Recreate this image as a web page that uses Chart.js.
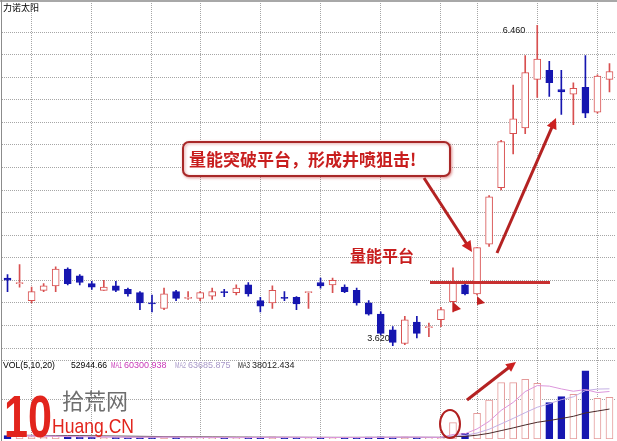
<!DOCTYPE html>
<html>
<head>
<meta charset="utf-8">
<script src="https://cdn.jsdelivr.net/npm/chart.js@4.4.0/dist/chart.umd.min.js"></script>
<style>
  body { margin: 0; background: #fff; }
  #wrap { position: relative; width: 617px; height: 441px; overflow: hidden; background: #fff; }
  #price { position: absolute; left: 0; top: 0; }
  #vol { position: absolute; left: 0; top: 358px; }
  #edgeTop { position: absolute; left: 0; top: 0; width: 617px; height: 2px; background: #a8a8a8; }
  #edgeLeft { position: absolute; left: 1px; top: 0; width: 1px; height: 441px; background: #8c8c8c; }
</style>
</head>
<body>
<div id="wrap">
  <canvas id="price" width="617" height="360"></canvas>
  <canvas id="vol" width="617" height="83"></canvas>
  <div id="edgeTop"></div>
  <div id="edgeLeft"></div>
</div>
<script>
// trading days shown in the window
const days = [1,2,3,4,5,6,7,8,9,10,11,12,13,14,15,16,17,18,19,20,21,22,23,24,25,
  26,27,28,29,30,31,32,33,34,35,36,37,38,39,40,41,42,43,44,45,46,47,48,49,50,51];

// daily prices
const openP  = [4.22,4.17,4.02,4.11,4.15,4.30,4.24,4.17,4.11,4.15,4.12,4.09,4.00,3.95,4.10,4.04,4.04,4.06,4.10,4.09,
  4.16,4.02,4.00,4.05,4.05,4.09,4.18,4.16,4.14,4.11,4.00,3.90,3.76,3.64,3.83,3.78,3.85,4.01,4.16,4.08,
  4.52,5.02,5.50,5.55,5.98,6.06,5.89,5.85,5.91,5.69,5.98];
const closeP = [4.20,4.18,4.10,4.15,4.30,4.17,4.18,4.14,4.14,4.11,4.08,4.00,3.99,4.08,4.04,4.045,4.09,4.10,4.09,4.13,
  4.08,3.97,4.11,4.04,3.99,4.095,4.15,4.20,4.10,4.00,3.90,3.73,3.65,3.85,3.73,3.79,3.94,4.19,4.08,4.49,
  4.94,5.43,5.63,6.04,6.16,5.95,5.87,5.90,5.68,6.01,6.05];
const highP  = [4.25,4.34,4.14,4.17,4.32,4.31,4.25,4.19,4.20,4.19,4.13,4.10,4.07,4.13,4.11,4.10,4.10,4.13,4.12,4.16,
  4.18,4.05,4.15,4.10,4.055,4.095,4.22,4.22,4.16,4.13,4.02,3.92,3.79,3.88,3.88,3.82,3.96,4.31,4.17,4.49,
  4.95,5.44,5.93,6.19,6.46,6.14,6.06,5.95,6.19,6.02,6.12];
const lowP   = [4.10,4.14,4.00,4.10,4.10,4.16,4.16,4.12,4.11,4.10,4.06,3.94,3.92,3.94,4.02,4.03,4.02,4.03,4.055,4.07,
  4.06,3.92,3.95,4.02,3.94,3.95,4.13,4.09,4.09,3.98,3.89,3.715,3.62,3.63,3.69,3.70,3.79,3.92,4.07,4.07,
  4.50,5.00,5.32,5.50,5.82,5.83,5.67,5.58,5.64,5.68,5.87];

// volume and its moving averages MA1(5) MA2(10) MA3(20)
const volume = [4200,3800,3000,2200,3500,3000,2500,2000,1800,2200,1900,2600,2400,2800,2000,1600,1700,1900,1500,1800,
  2300,2500,2700,1700,2000,1900,2100,1800,1600,2200,2400,2900,2300,2600,1900,1500,2000,20700,7200,32600,
  49500,71500,71500,75800,70700,46100,53700,56800,86400,51700,52944.66];
const ma1 = [4300,4200,3900,3500,3340,3100,2840,2640,2560,2300,2080,2100,2180,2380,2340,2280,2100,2000,1740,1700,
  1840,2000,2160,2200,2240,2160,2080,1900,1880,1920,2020,2180,2280,2480,2420,2240,2060,5740,6660,12800,
  22400,36300,46460,60180,67800,67120,63560,60620,62740,58940,60300.938];
const ma2 = [4500,4400,4200,4000,3800,3500,3300,3100,2950,2820,2590,2470,2410,2470,2320,2180,2100,2090,2060,2020,
  2060,2050,2080,1970,1970,2000,2040,2030,2040,2080,2090,2130,2090,2180,2170,2130,2120,4010,4570,7610,
  12320,19180,26100,33420,40300,44760,49930,53540,61460,63370,63685.875];
const ma3 = [4800,4700,4600,4500,4400,4300,4150,4000,3850,3700,3550,3400,3250,3100,2950,2800,2700,2600,2500,2420,
  2325,2260,2245,2220,2145,2090,2070,2060,2050,2050,2075,2090,2085,2075,2070,2065,2080,3020,3305,4845,
  7205,10655,14095,17800,21235,23445,26025,28775,33015,35490,38012.434];

// axis ticks (grid lines)
const priceTicks = [3.6,3.8,4.0,4.2,4.4,4.6,4.8,5.0,5.2,5.4,5.6,5.8,6.0,6.2,6.4];
const volTicks = [50000, 100000];
const dateGridDays = [2,7,12,16,21,26,31,36,39,44,49]; // day indexes with a vertical grid line

const priceMin = 3.5114, priceMax = 6.657;
const volMax = 102800;

const upColor = '#d85050';
const downColor = '#1616b0';
const gridColor = '#a6a6a6';

const isUp = openP.map((o, i) => closeP[i] >= o);

function drawArrow(ctx, x1, y1, x2, y2, head) {
  const a = Math.atan2(y2 - y1, x2 - x1);
  ctx.beginPath();
  ctx.moveTo(x1, y1);
  ctx.lineTo(x2 - head * 0.7 * Math.cos(a), y2 - head * 0.7 * Math.sin(a));
  ctx.stroke();
  ctx.beginPath();
  ctx.moveTo(x2, y2);
  ctx.lineTo(x2 - head * Math.cos(a - 0.45), y2 - head * Math.sin(a - 0.45));
  ctx.lineTo(x2 - head * Math.cos(a + 0.45), y2 - head * Math.sin(a + 0.45));
  ctx.closePath();
  ctx.fill();
}

function xAxisOpts() {
  return {
    offset: true,
    ticks: { display: false },
    grid: {
      offset: false,
      drawTicks: false,
      color: c => dateGridDays.includes(c.index) ? gridColor : 'rgba(0,0,0,0)'
    },
    border: { display: false, dash: [1, 1] }
  };
}

// notes drawn over the price panel
const priceNotes = {
  id: 'priceNotes',
  afterDatasetsDraw(chart) {
    const ctx = chart.ctx;
    const xs = chart.scales.x, ys = chart.scales.y;
    ctx.save();

    ctx.fillStyle = '#000';
    ctx.font = '9px "Noto Sans CJK SC"';
    ctx.textBaseline = 'middle';
    ctx.fillText('力诺太阳', 3, 8);

    // high / low labels
    const hiIdx = highP.indexOf(Math.max(...highP));
    const loIdx = lowP.indexOf(Math.min(...lowP));
    ctx.font = '9px "Liberation Sans"';
    ctx.fillStyle = '#111';
    ctx.textAlign = 'right';
    ctx.fillText(highP[hiIdx].toFixed(3), xs.getPixelForValue(hiIdx) - 12, ys.getPixelForValue(highP[hiIdx]) + 5);
    ctx.fillText(lowP[loIdx].toFixed(3), xs.getPixelForValue(loIdx) - 3, ys.getPixelForValue(lowP[loIdx]) - 7);
    ctx.textAlign = 'left';

    // callout box
    ctx.save();
    ctx.shadowColor = 'rgba(190,40,40,0.45)';
    ctx.shadowBlur = 3;
    ctx.shadowOffsetX = 1;
    ctx.shadowOffsetY = 1;
    ctx.strokeStyle = '#a82828';
    ctx.lineWidth = 2;
    ctx.fillStyle = '#fff';
    ctx.beginPath();
    ctx.roundRect(183, 142, 267, 34, 6);
    ctx.fill();
    ctx.stroke();
    ctx.restore();

    ctx.fillStyle = '#c81e1e';
    ctx.font = 'bold 17px "Noto Sans CJK SC"';
    ctx.textBaseline = 'middle';
    ctx.fillText('量能突破平台，形成井喷狙击!', 189, 160, 253);

    ctx.font = 'bold 16px "Noto Sans CJK SC"';
    ctx.fillText('量能平台', 350, 256, 72);

    // platform line
    ctx.strokeStyle = '#c83030';
    ctx.lineWidth = 3;
    ctx.beginPath();
    ctx.moveTo(430, 282.5);
    ctx.lineTo(550, 282.5);
    ctx.stroke();

    // arrows
    ctx.strokeStyle = '#b42222';
    ctx.fillStyle = '#cc2020';
    ctx.lineWidth = 3;
    drawArrow(ctx, 424, 178, 472, 252, 12);
    drawArrow(ctx, 497, 253, 556, 118, 12);

    // small flags
    ctx.fillStyle = '#c02020';
    ctx.beginPath();
    ctx.moveTo(453, 302); ctx.lineTo(453, 312); ctx.lineTo(461, 309); ctx.closePath(); ctx.fill();
    ctx.beginPath();
    ctx.moveTo(477, 296); ctx.lineTo(477, 305); ctx.lineTo(485, 303); ctx.closePath(); ctx.fill();

    ctx.restore();
  }
};

new Chart(document.getElementById('price'), {
  type: 'bar',
  data: {
    labels: days,
    datasets: [
      {
        data: days.map((d, i) => [lowP[i], highP[i]]),
        backgroundColor: isUp.map(u => u ? upColor : downColor),
        barThickness: 1,
        grouped: false,
        order: 2
      },
      {
        data: days.map((d, i) => [openP[i], closeP[i]]),
        backgroundColor: isUp.map(u => u ? '#ffffff' : downColor),
        borderColor: isUp.map(u => u ? upColor : downColor),
        borderWidth: 1,
        borderSkipped: false,
        barThickness: 7,
        minBarLength: 1,
        grouped: false,
        order: 1
      }
    ]
  },
  options: {
    responsive: false,
    animation: false,
    events: [],
    layout: { padding: { left: 1.5, right: 1.5, top: 3, bottom: 2 } },
    plugins: { legend: { display: false }, tooltip: { enabled: false } },
    scales: {
      x: xAxisOpts(),
      y: {
        min: priceMin,
        max: priceMax,
        afterBuildTicks: s => { s.ticks = priceTicks.map(v => ({ value: v })); },
        ticks: { display: false },
        grid: { drawTicks: false, color: gridColor },
        border: { display: false, dash: [1, 1] }
      }
    }
  },
  plugins: [priceNotes]
});

// notes drawn over the volume panel
const volNotes = {
  id: 'volNotes',
  afterDatasetsDraw(chart) {
    const ctx = chart.ctx;
    const top = 358; // canvas offset in page
    ctx.save();
    ctx.textBaseline = 'middle';
    ctx.font = '9px "Liberation Sans"';
    const ty = 366 - top;
    ctx.fillStyle = '#000';
    ctx.fillText('VOL(5,10,20)', 3, ty, 52);
    ctx.fillText(volume[volume.length - 1].toFixed(2), 71, ty, 36);
    ctx.fillStyle = '#c838b8';
    ctx.fillText('MA1', 111, ty, 11);
    ctx.fillText(ma1[ma1.length - 1].toFixed(3), 124, ty, 45);
    ctx.fillStyle = '#a898c8';
    ctx.fillText('MA2', 175, ty, 11);
    ctx.fillText(ma2[ma2.length - 1].toFixed(3), 188, ty, 45);
    ctx.fillStyle = '#222';
    ctx.fillText('MA3', 238, ty, 12);
    ctx.fillText(ma3[ma3.length - 1].toFixed(3), 252, ty, 45);

    // ring around the breakout volume
    ctx.strokeStyle = '#b02020';
    ctx.lineWidth = 2;
    ctx.beginPath();
    ctx.ellipse(450, 424 - top, 10, 14, 0, 0, Math.PI * 2);
    ctx.stroke();

    ctx.strokeStyle = '#b42222';
    ctx.fillStyle = '#cc2020';
    ctx.lineWidth = 3;
    drawArrow(ctx, 467, 400 - top, 516, 362 - top, 11);

    // watermark
    ctx.fillStyle = '#e2241c';
    ctx.font = 'bold 60px "Liberation Sans"';
    ctx.textBaseline = 'alphabetic';
    ctx.fillText('10', 4, 437 - top, 48);
    ctx.fillStyle = '#6e6e6e';
    ctx.font = '22px "Noto Sans CJK SC"';
    ctx.textBaseline = 'middle';
    ctx.fillText('拾荒网', 62, 401 - top, 66);
    ctx.fillStyle = '#e2241c';
    ctx.font = '21px "Liberation Sans"';
    ctx.fillText('Huang.CN', 52, 427 - top, 82);
    ctx.restore();
  }
};

new Chart(document.getElementById('vol'), {
  type: 'bar',
  data: {
    labels: days,
    datasets: [
      {
        data: volume,
        backgroundColor: isUp.map(u => u ? '#ffffff' : downColor),
        borderColor: isUp.map(u => u ? '#e49a9a' : downColor),
        borderWidth: 1,
        borderSkipped: false,
        barThickness: 7,
        minBarLength: 1,
        order: 2
      },
      { type: 'line', data: ma1, borderColor: '#dc96dc', borderWidth: 1, pointRadius: 0, order: 1 },
      { type: 'line', data: ma2, borderColor: '#c4b0e4', borderWidth: 1, pointRadius: 0, order: 1 },
      { type: 'line', data: ma3, borderColor: '#4a2a2a', borderWidth: 1, pointRadius: 0, order: 1 }
    ]
  },
  options: {
    responsive: false,
    animation: false,
    events: [],
    layout: { padding: { left: 1.5, right: 1.5, top: 0, bottom: 2 } },
    plugins: { legend: { display: false }, tooltip: { enabled: false } },
    scales: {
      x: xAxisOpts(),
      y: {
        min: 0,
        max: volMax,
        afterBuildTicks: s => { s.ticks = volTicks.map(v => ({ value: v })); },
        ticks: { display: false },
        grid: { drawTicks: false, color: gridColor },
        border: { display: false, dash: [1, 1] }
      }
    }
  },
  plugins: [volNotes]
});
</script>
</body>
</html>
